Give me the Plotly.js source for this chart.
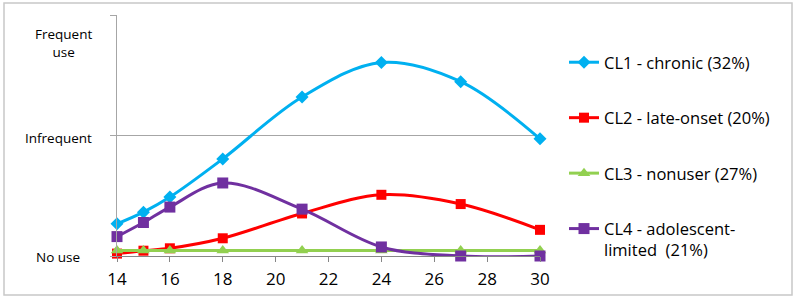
<!DOCTYPE html>
<html>
<head>
<meta charset="utf-8">
<script src="https://cdn.plot.ly/plotly-3.0.1.min.js"></script>
<style>html,body{margin:0;padding:0;background:#fff}#chart{width:800px;height:300px}</style>
</head>
<body>
<div id="chart"></div>
<script>
const ages = [14, 15, 16, 18, 21, 24, 27, 30];
const seriesNames = ["CL1 - chronic (32%)", "CL2 - late-onset (20%)", "CL3 - nonuser (27%)", "CL4 - adolescent-<br>limited  (21%)"];
const cl1 = [0.267, 0.364, 0.489, 0.806, 1.319, 1.606, 1.447, 0.972];
const cl2 = [0.02, 0.044, 0.064, 0.147, 0.353, 0.508, 0.431, 0.217];
const cl3 = [0.045, 0.045, 0.045, 0.045, 0.045, 0.045, 0.045, 0.045];
const cl4 = [0.161, 0.278, 0.406, 0.606, 0.389, 0.075, 0.0, 0.0];
const yTickVals = [0, 1, 2];
const yTickText = ["No use", "Infrequent", "Frequent<br>use"];
const xTickVals = [14, 16, 18, 20, 22, 24, 26, 28, 30];

const FONT = "'Open Sans', Lato, sans-serif";
const colors = ["#00B0F0", "#FF0000", "#92D050", "#7030A0"];
const symbols = ["diamond", "square", "triangle-up", "square"];
const sizes = [10, 10, 11, 11];
const data = [cl1, cl2, cl3, cl4].map((ys, i) => ({
  x: ages, y: ys, type: "scatter", mode: "lines+markers",
  name: seriesNames[i], legendgroup: "g" + i,
  line: {color: colors[i], width: 3, shape: "spline", smoothing: 1},
  marker: {color: colors[i], symbol: symbols[i], size: sizes[i]},
  cliponaxis: false
}));

const L = 117, R = 540, T = 15, B = 256;
const px2x = p => (p - L) / (R - L);
const px2y = p => (B - p) / (B - T);
const labelYPx = [257, 138, 43];
const labelXPx = [58, 58, 63];

const annotations = yTickText.map((t, i) => ({
  text: t, xref: "paper", yref: "paper",
  x: px2x(labelXPx[i]), y: px2y(labelYPx[i]), xanchor: "center", yanchor: "middle",
  showarrow: false, font: {family: FONT, size: 13.5, color: "#000"}
}));

const layout = {
  width: 800, height: 300,
  margin: {l: L, r: 800 - R, t: T, b: 300 - B},
  paper_bgcolor: "#fff", plot_bgcolor: "#fff",
  font: {family: FONT, color: "#000"},
  xaxis: {
    range: [14, 30], tickvals: xTickVals, ticks: "outside", ticklen: 5, tickcolor: "#868686",
    showline: true, linecolor: "#868686", linewidth: 1, showgrid: false, zeroline: false,
    tickfont: {size: 17, color: "#000"}, ticklabelstandoff: 3
  },
  yaxis: {
    range: [0, 2], tickvals: yTickVals, showticklabels: false, ticks: "outside", ticklen: 6, tickcolor: "#A6A6A6",
    showline: true, linecolor: "#A6A6A6", linewidth: 1, showgrid: true, gridcolor: "#A6A6A6", gridwidth: 1, zeroline: false
  },
  showlegend: true,
  legend: {
    x: px2x(564), y: px2y(45), xanchor: "left", yanchor: "top",
    font: {family: FONT, size: 16.5, color: "#000"}, tracegroupgap: 31, valign: "top",
    bgcolor: "rgba(0,0,0,0)"
  },
  annotations: annotations,
  shapes: [{
    type: "rect", xref: "paper", yref: "paper",
    x0: px2x(4), x1: px2x(792), y0: px2y(295), y1: px2y(3),
    line: {color: "#C8C8C8", width: 1.5}
  }]
};

Plotly.newPlot("chart", data, layout, {displayModeBar: false, staticPlot: true});
</script>
</body>
</html>
